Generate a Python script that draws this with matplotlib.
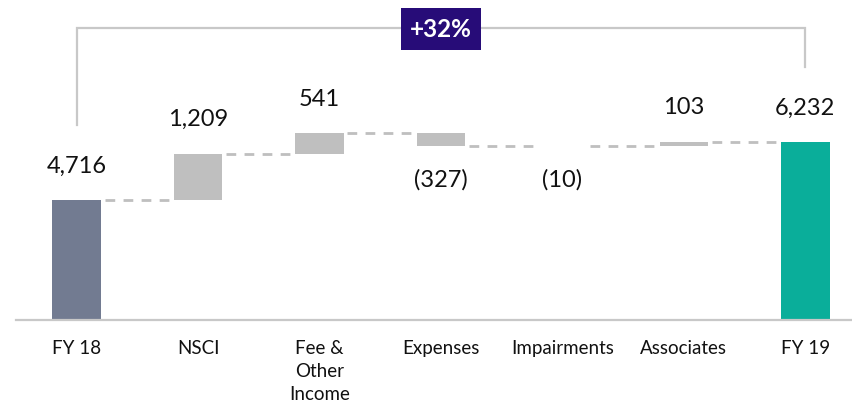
import matplotlib
matplotlib.use('agg')
import matplotlib.pyplot as plt

categories = ['FY 18', 'NSCI', 'Fee &\nOther\nIncome', 'Expenses', 'Impairments', 'Associates', 'FY 19']
values = [4716, 1209, 541, -327, -10, 103, 6232]
labels = ['4,716', '1,209', '541', '(327)', '(10)', '103', '6,232']
growth_label = '+32%'

plt.rcParams['font.family'] = ['Lato', 'DejaVu Sans']

col_start = '#727b91'
col_end = '#0aae9a'
col_step = '#bfbfbf'
col_line = '#c8c8c8'
col_box = '#270c78'

fig = plt.figure(figsize=(8.52, 4), dpi=100)
ax = fig.add_axes([16 / 852, 0.2, 850 / 852, 0.8])

width = 0.4
running = 0
tops = []
for i, v in enumerate(values):
    if i == 0 or i == len(values) - 1:
        color = col_start if i == 0 else col_end
        ax.bar(i, v, width=width, color=color, zorder=2)
        lo, hi = 0, v
        running = v
    else:
        lo, hi = (running, running + v) if v >= 0 else (running + v, running)
        ax.bar(i, hi - lo, bottom=lo, width=width, color=col_step, zorder=2)
        running += v
    tops.append(running)
    # value label
    if v >= 0:
        ax.annotate(labels[i], (i, hi), xytext=(0, 24.5), textcoords='offset points',
                    ha='center', va='center', fontsize=17, color='#111111')
    else:
        ax.annotate(labels[i], (i, lo), xytext=(0, -24.5), textcoords='offset points',
                    ha='center', va='center', fontsize=17, color='#111111')

# dashed connectors
for i in range(len(values) - 1):
    ax.plot([i + width / 2 + 0.03, i + 1 - width / 2 - 0.03], [tops[i], tops[i]],
            color=col_step, lw=2, ls=(0, (3.5, 3)), zorder=1)

# growth bracket
top_y = 9210
drop = 1960
ax.plot([0, 0, len(values) - 1, len(values) - 1],
        [values[0] + drop, top_y, top_y, values[-1] + drop],
        color=col_line, lw=1.6, zorder=1, solid_joinstyle='miter')
ax.text(3, top_y - 30, growth_label, ha='center', va='center', fontsize=17.5,
        fontweight='bold', color='white', zorder=3,
        bbox=dict(boxstyle='square,pad=0.38', fc=col_box, ec='none'))

ax.set_xlim(-0.5, 6.5)
ax.set_ylim(1580, 9943)
ax.set_xticks(range(len(categories)))
ax.set_xticklabels(categories, fontsize=13.5, color='#111111', linespacing=1.42, va='top')
ax.tick_params(axis='x', length=0, pad=14.5)
ax.set_yticks([])
for s in ['top', 'right', 'left']:
    ax.spines[s].set_visible(False)
ax.spines['bottom'].set_color(col_line)
ax.spines['bottom'].set_linewidth(1.6)

plt.savefig('out.png', dpi=100)
